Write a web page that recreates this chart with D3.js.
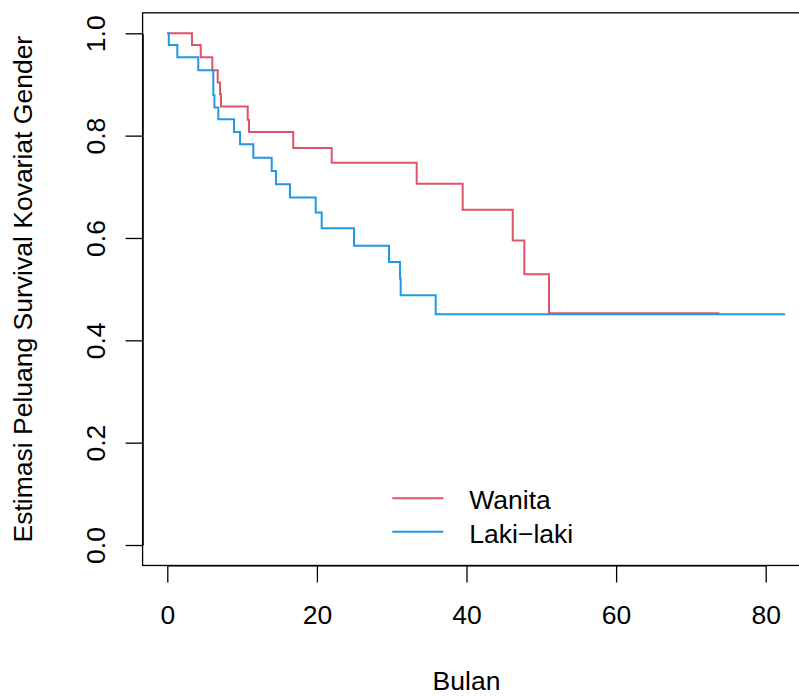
<!DOCTYPE html>
<html>
<head>
<meta charset="utf-8">
<script src="https://cdn.jsdelivr.net/npm/d3@7"></script>
<style>
  html, body { margin: 0; padding: 0; background: #fff; }
  svg { display: block; }
  text { font-family: "Liberation Sans", Arial, Helvetica, sans-serif; fill: #000; }
</style>
</head>
<body>
<svg id="chart" width="799" height="697"></svg>
<script>
// Kaplan–Meier estimates by gender: time of each drop (months) and survival after it
const wanitaTimes = [3.3, 4.47, 6.02, 6.74, 7.05, 7.18, 10.75, 10.92, 16.84, 21.98, 33.34, 39.49, 46.18, 47.73, 51.03];
const wanitaSurv  = [0.977, 0.953, 0.928, 0.904, 0.881, 0.857, 0.831, 0.807, 0.776, 0.747, 0.706, 0.655, 0.595, 0.529, 0.453];
const wanitaEnd   = 73.8;

const lakiTimes = [0.2, 1.34, 4.14, 6.15, 6.3, 6.82, 8.92, 9.72, 11.5, 13.96, 14.53, 16.4, 19.84, 20.64, 24.96, 29.64, 31.11, 31.2, 35.88];
const lakiSurv  = [0.977, 0.953, 0.928, 0.879, 0.855, 0.832, 0.807, 0.783, 0.757, 0.731, 0.705, 0.679, 0.650, 0.619, 0.585, 0.553, 0.521, 0.488, 0.451];
const lakiEnd   = 82.6;

const xTicks = [0, 20, 40, 60, 80];
const yTicks = [0, 0.2, 0.4, 0.6, 0.8, 1.0];
const seriesNames = ["Wanita", "Laki\u2212laki"];
const seriesColors = ["#DF536B", "#2297E6"];

const FONT = 26.5;
const svg = d3.select("#chart");

const x = d3.scaleLinear().domain([0, 80]).range([167.3, 765.7]);
const y = d3.scaleLinear().domain([0, 1]).range([545, 33.3]);

// plot frame (extends 4% beyond the data on each side)
const xPad = 0.04 * lakiEnd;
const boxLeft = x(-xPad), boxRight = x(lakiEnd + xPad);
const boxTop = y(1.04), boxBottom = y(-0.04);
svg.append("rect")
  .attr("x", boxLeft).attr("y", boxTop)
  .attr("width", boxRight - boxLeft).attr("height", boxBottom - boxTop)
  .attr("fill", "none").attr("stroke", "#000").attr("stroke-width", 1.3);

// axes
const xAxis = svg.append("g")
  .attr("transform", `translate(0,${boxBottom})`)
  .call(d3.axisBottom(x).tickValues(xTicks).tickSize(17).tickSizeOuter(0).tickPadding(0));
xAxis.select(".domain").attr("stroke-width", 1.3);
xAxis.selectAll(".tick line").attr("stroke-width", 1.3);
xAxis.selectAll(".tick text")
  .attr("font-size", FONT).attr("dy", null).attr("y", 59);

const yAxis = svg.append("g")
  .attr("transform", `translate(${boxLeft},0)`)
  .call(d3.axisLeft(y).tickValues(yTicks).tickFormat(d3.format(".1f")).tickSize(17).tickSizeOuter(0));
yAxis.select(".domain").attr("stroke-width", 1.3);
yAxis.selectAll(".tick line").attr("stroke-width", 1.3);
yAxis.selectAll(".tick text")
  .attr("font-size", FONT)
  .attr("text-anchor", "middle")
  .attr("x", null).attr("dy", null)
  .attr("transform", "translate(-38,0) rotate(-90)");

// axis titles
svg.append("text")
  .attr("x", (x(0) + x(80)) / 2).attr("y", 690)
  .attr("text-anchor", "middle").attr("font-size", FONT)
  .text("Bulan");
svg.append("text")
  .attr("transform", `translate(32,${(boxTop + boxBottom) / 2}) rotate(-90)`)
  .attr("text-anchor", "middle").attr("font-size", FONT)
  .text("Estimasi Peluang Survival Kovariat Gender");

// survival step curves
const stepLine = d3.line()
  .x(d => x(d[0])).y(d => y(d[1]))
  .curve(d3.curveStepAfter);

function curvePoints(times, surv, end) {
  const pts = [[0, 1]];
  times.forEach((t, i) => pts.push([t, surv[i]]));
  pts.push([end, surv[surv.length - 1]]);
  return pts;
}

const curves = [
  curvePoints(wanitaTimes, wanitaSurv, wanitaEnd),
  curvePoints(lakiTimes, lakiSurv, lakiEnd)
];

svg.append("g").selectAll("path")
  .data(curves)
  .join("path")
  .attr("d", stepLine)
  .attr("fill", "none")
  .attr("stroke", (d, i) => seriesColors[i])
  .attr("stroke-width", 2);

// legend
const legend = svg.append("g");
const legendY = [498.3, 531.7];
seriesNames.forEach((name, i) => {
  legend.append("line")
    .attr("x1", 392.3).attr("x2", 443.3)
    .attr("y1", legendY[i]).attr("y2", legendY[i])
    .attr("stroke", seriesColors[i]).attr("stroke-width", 2);
  legend.append("text")
    .attr("x", 469.3).attr("y", legendY[i] + 11)
    .attr("font-size", FONT)
    .text(name);
});
</script>
</body>
</html>
